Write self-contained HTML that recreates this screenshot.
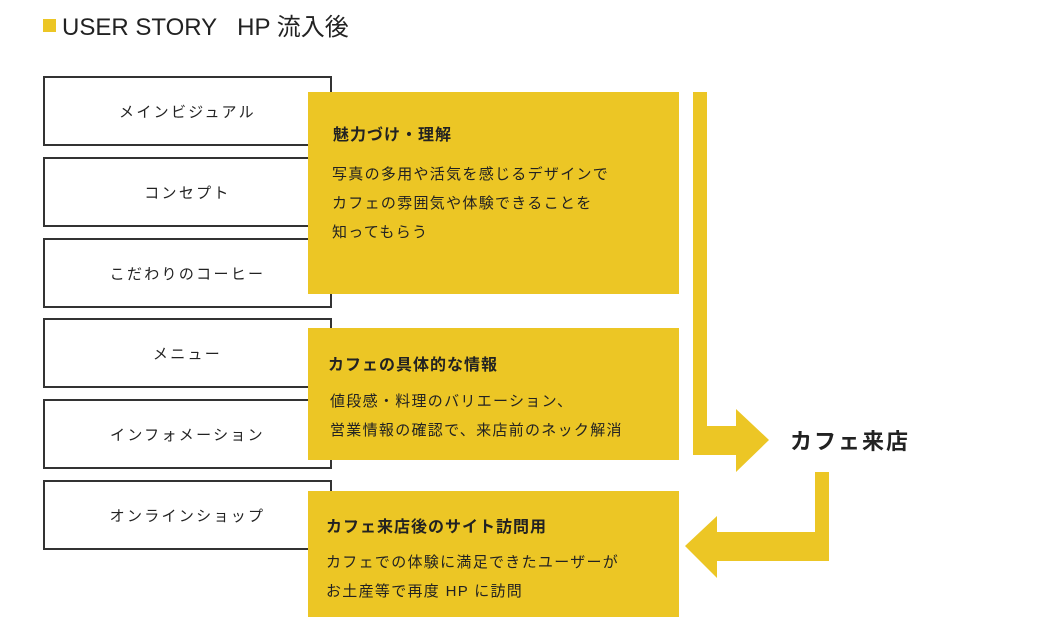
<!DOCTYPE html>
<html><head><meta charset="utf-8"><style>
body{margin:0;width:1051px;height:635px;background:#fff;position:relative;overflow:hidden;font-family:"Liberation Sans","Noto Sans CJK JP",sans-serif;color:#222}
.a{position:absolute}
.b{position:absolute;left:43px;width:285px;height:66px;border:2px solid #333;display:flex;align-items:center;justify-content:center;font-size:15px;letter-spacing:2.3px;background:#fff}
.y{position:absolute;left:308px;width:371px;background:#ECC625}
.y h3{margin:0;font-size:16px;font-weight:bold;position:absolute;left:22px;letter-spacing:1px}
.y p{margin:0;font-size:15px;line-height:29px;position:absolute;left:24px;letter-spacing:1.3px}
</style></head><body>
<div class="a" style="left:43px;top:19px;width:13px;height:13px;background:#ECC625"></div>
<div class="a" style="left:62px;top:7px;font-size:24px;color:#222">USER STORY&nbsp;&nbsp; HP 流入後</div>
<div class="b" style="top:76px">メインビジュアル</div>
<div class="b" style="top:157px">コンセプト</div>
<div class="b" style="top:238px">こだわりのコーヒー</div>
<div class="b" style="top:318px">メニュー</div>
<div class="b" style="top:399px">インフォメーション</div>
<div class="b" style="top:480px">オンラインショップ</div>
<div class="y" style="top:92px;height:202px"><h3 style="top:29px;left:25px">魅力づけ・理解</h3><p style="top:68px">写真の多用や活気を感じるデザインで<br>カフェの雰囲気や体験できることを<br>知ってもらう</p></div>
<div class="y" style="top:328px;height:132px"><h3 style="top:23px;left:20px">カフェの具体的な情報</h3><p style="top:59px;left:22px">値段感・料理のバリエーション、<br>営業情報の確認で、来店前のネック解消</p></div>
<div class="y" style="top:491px;height:126px"><h3 style="top:22px;left:18px">カフェ来店後のサイト訪問用</h3><p style="top:57px;left:18px">カフェでの体験に満足できたユーザーが<br>お土産等で再度 HP に訪問</p></div>
<svg class="a" style="left:0;top:0" width="1051" height="635">
<polygon fill="#ECC625" points="693,92 707,92 707,426 736,426 736,409 769,440 736,472 736,455 693,455"/>
<polygon fill="#ECC625" points="815,472 829,472 829,561 717,561 717,578 685,546 717,516 717,532 815,532"/>
</svg>
<div class="a" style="left:790px;top:424px;font-size:22px;font-weight:bold;letter-spacing:2px">カフェ来店</div>
</body></html>
